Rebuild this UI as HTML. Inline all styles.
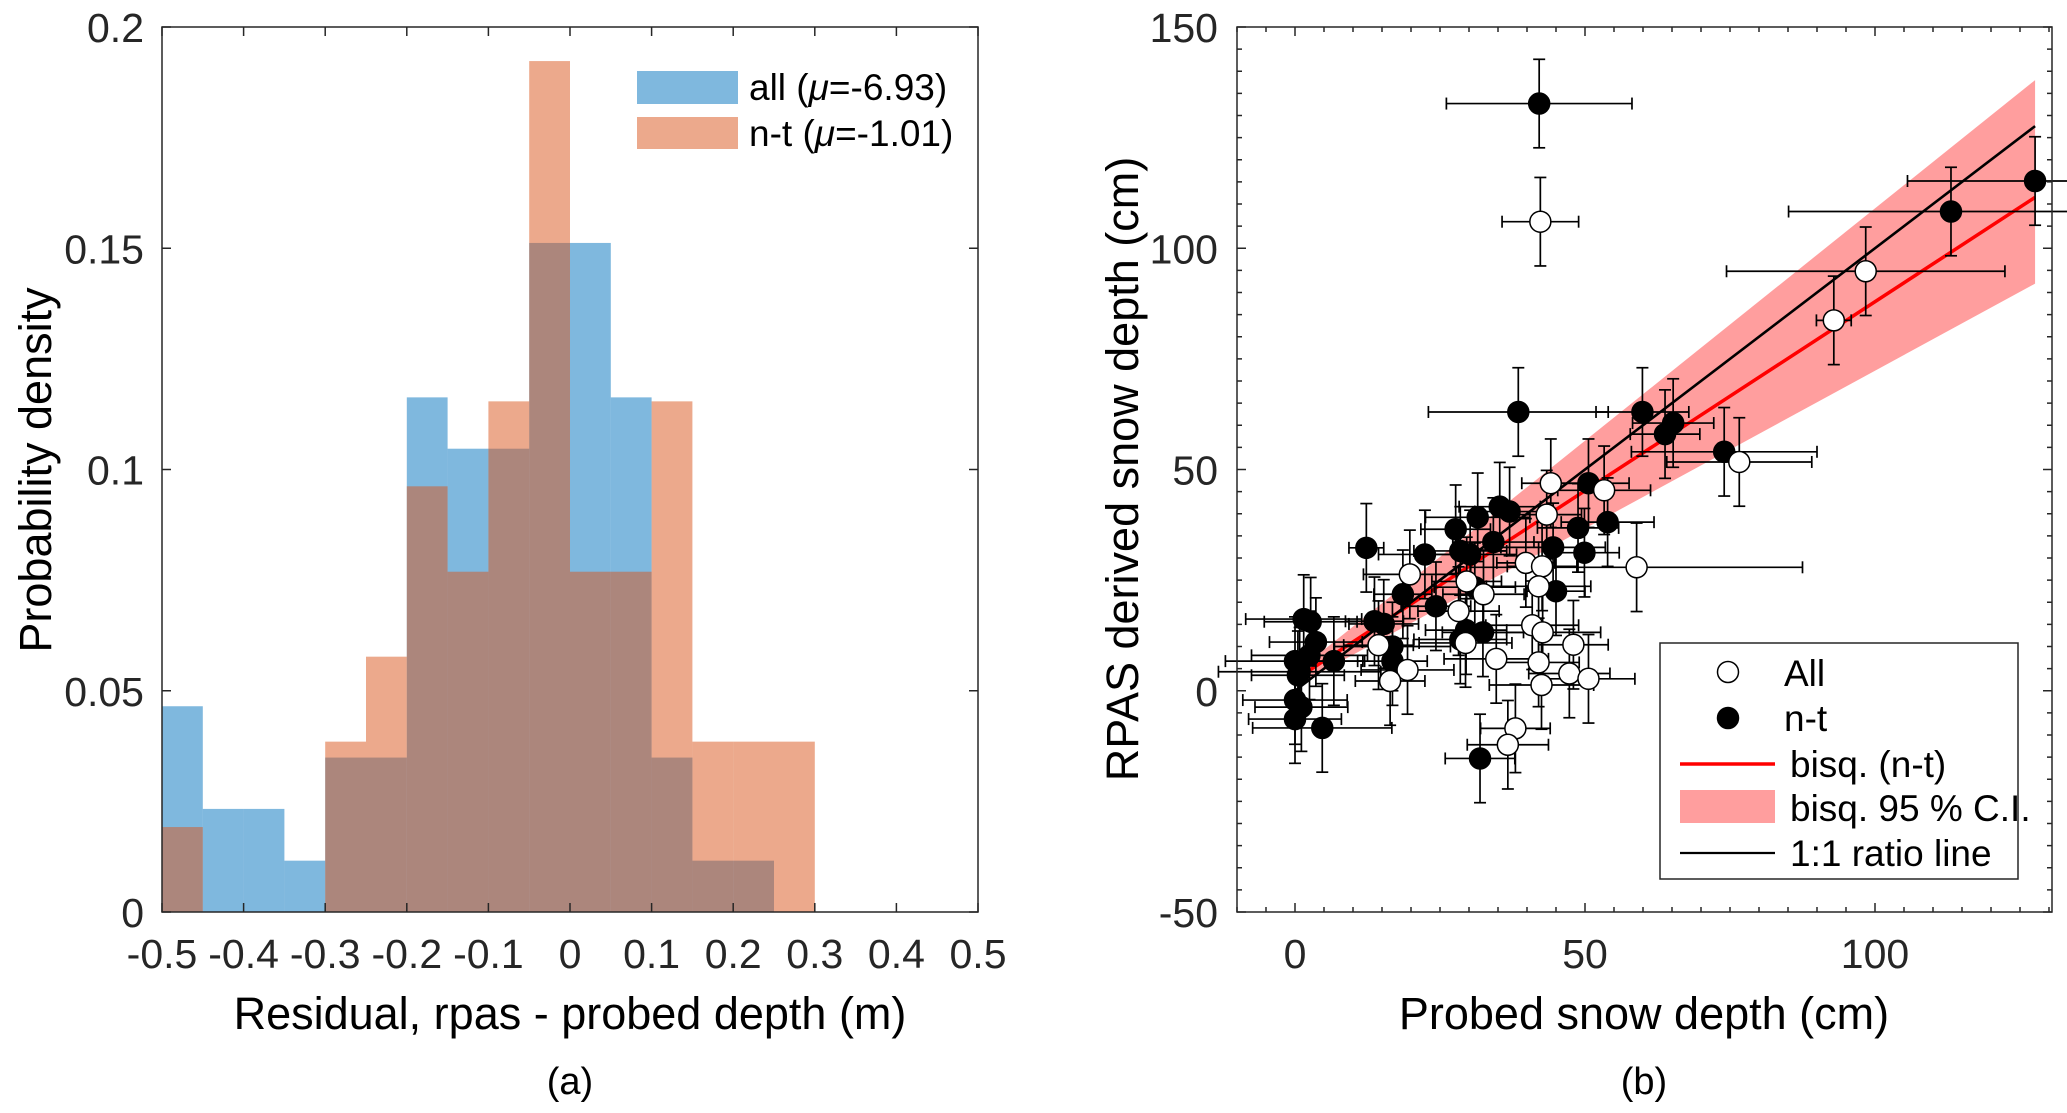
<!DOCTYPE html>
<html><head><meta charset="utf-8">
<style>
html,body{margin:0;padding:0;background:#fff;}
svg{display:block;font-family:"Liberation Sans",Arial,sans-serif;}
</style></head>
<body>
<svg id="fig" width="2067" height="1113" viewBox="0 0 2067 1113" xmlns="http://www.w3.org/2000/svg">
  <g id="histA"></g>
  <g id="scatB"></g>
</svg>
<script>
// ---------- Panel (a) data ----------
const binEdges = [-0.5,-0.45,-0.4,-0.35,-0.3,-0.25,-0.2,-0.15,-0.1,-0.05,0,0.05,0.1,0.15,0.2,0.25,0.3];
const allDensity = [0.0465,0.0233,0.0233,0.0116,0.0349,0.0349,0.1163,0.1047,0.1047,0.1512,0.1512,0.1163,0.0349,0.0116,0.0116,0];
const ntDensity  = [0.0192,0,0,0,0.0385,0.0577,0.0962,0.0769,0.1154,0.1923,0.0769,0.0769,0.1154,0.0385,0.0385,0.0385];
const xTicksA = [-0.5,-0.4,-0.3,-0.2,-0.1,0,0.1,0.2,0.3,0.4,0.5];
const xTickLabelsA = ["-0.5","-0.4","-0.3","-0.2","-0.1","0","0.1","0.2","0.3","0.4","0.5"];
const yTicksA = [0,0.05,0.1,0.15,0.2];
const yTickLabelsA = ["0","0.05","0.1","0.15","0.2"];

// ---------- Panel (b) data ----------
const ntX = [42.1,38.5,59.9,63.8,65.2,74,113.1,127.6,50.6,53.9,48.8,49.9,44.5,45,35.3,37,31.5,34.2,27.7,28.5,30.2,31,24.3,22.4,18.6,12.3,13.7,15.3,16.8,16.8,28.5,29.5,32.4,31.9,6.7,4.7,1.5,2.7,3.6,2.5,0,0.5,0,1.1,0,0.8];
const ntY = [132.7,63,63,58,60.5,54,108.3,115.2,46.9,38.1,36.8,31.2,32.4,22.5,41.6,40.5,39.2,33.6,36.5,31.6,30.8,23.4,19.1,30.8,21.8,32.3,15.7,15.1,10,6.7,11.6,13.7,13.2,-15.3,6.7,-8.4,16.2,15.6,11,8,6.7,3.5,-2.1,-3.7,-6.4,4.3];
const ntXErr = [16,15.5,8,6,7,16,28,22,7,8,7,6,9,5,7,6,9,7,6,8,8,7,6,8,5,3,5,6,10,6,8,7,7,6,5,12,10,8,8,10,12,8,9,8,8,14];
const ntYErr = [10,10,10,10,10,10,10,10,10,10,10,10,10,10,10,10,10,10,10,10,10,10,10,10,10,10,10,10,10,10,10,10,10,10,10,10,10,10,10,10,10,10,10,10,10,10];
const allX = [42.3,98.4,92.9,76.6,44.1,53.3,43.4,39.8,42.6,58.9,19.8,29.6,32.5,42,28.2,40.9,42.7,48,14.4,19.4,16.4,34.7,42,47.3,50.6,42.5,38,36.7,29.4];
const allY = [106,94.8,83.7,51.7,46.9,45.3,39.8,28.9,28.1,27.9,26.3,24.7,21.8,23.6,18,14.8,13.2,10.4,10.3,4.7,2.2,7.2,6.4,3.9,2.7,1.3,-8.5,-12.2,10.8];
const allXErr = [6.6,24,3,12.5,5,8,6,5,6,28.6,8,6,7,9,7,8,10,6,6,8,6,9,7,7,8,9,6,7,8];
const allYErr = [10,10,10,10,10,10,10,10,10,10,10,10,10,10,10,10,10,10,10,10,10,10,10,10,10,10,10,10,10];
const fitXEnds = [0,127.6];
const fitYEnds = [2.5,111.5];
const oneToOneX = [0,127.6];
const oneToOneY = [0,127.6];
const bandX = [0,127.6];
const bandUpper = [4,138];
const bandLower = [1,92];
const xTicksB = [0,50,100];
const xTickLabelsB = ["0","50","100"];
const yTicksB = [-50,0,50,100,150];
const yTickLabelsB = ["-50","0","50","100","150"];

const NS="http://www.w3.org/2000/svg";
function mk(parent,tag,attrs,text){
  const e=document.createElementNS(NS,tag);
  for(const k in attrs) e.setAttribute(k,attrs[k]);
  if(text!==undefined) e.textContent=text;
  parent.appendChild(e); return e;
}

// ===== Panel A =====
const A={l:162,r:978,t:27,b:912,x0:-0.5,x1:0.5,y0:0,y1:0.2};
const ax=v=>A.l+(v-A.x0)/(A.x1-A.x0)*(A.r-A.l);
const ay=v=>A.b-(v-A.y0)/(A.y1-A.y0)*(A.b-A.t);
const gA=document.getElementById('histA');
for(let i=0;i<allDensity.length;i++){
  if(allDensity[i]<=0) continue;
  const r=mk(gA,'rect',{x:ax(binEdges[i]),y:ay(allDensity[i]),width:ax(binEdges[i+1])-ax(binEdges[i]),height:ay(0)-ay(allDensity[i]),fill:'#0072BD','fill-opacity':0.5});
  
  
}
for(let i=0;i<ntDensity.length;i++){
  if(ntDensity[i]<=0) continue;
  const r=mk(gA,'rect',{x:ax(binEdges[i]),y:ay(ntDensity[i]),width:ax(binEdges[i+1])-ax(binEdges[i]),height:ay(0)-ay(ntDensity[i]),fill:'#D95319','fill-opacity':0.5});
  
  
}
const boxA=mk(gA,'rect',{x:A.l,y:A.t,width:A.r-A.l,height:A.b-A.t,fill:'none',stroke:'#262626','stroke-width':1.5});


xTicksA.forEach((v,i)=>{
  const x=ax(v);
  mk(gA,'line',{x1:x,x2:x,y1:A.b,y2:A.b-9,stroke:'#262626','stroke-width':1.5});
  mk(gA,'line',{x1:x,x2:x,y1:A.t,y2:A.t+9,stroke:'#262626','stroke-width':1.5});
  const t=mk(gA,'text',{x:x,y:968,'font-size':41,'text-anchor':'middle',fill:'#262626'},xTickLabelsA[i]);
  
  
});
yTicksA.forEach((v,i)=>{
  const y=ay(v);
  mk(gA,'line',{x1:A.l,x2:A.l+9,y1:y,y2:y,stroke:'#262626','stroke-width':1.5});
  mk(gA,'line',{x1:A.r,x2:A.r-9,y1:y,y2:y,stroke:'#262626','stroke-width':1.5});
  const t=mk(gA,'text',{x:144,y:y+15,'font-size':41,'text-anchor':'end',fill:'#262626'},yTickLabelsA[i]);
  
  
});
// legend A
const lgA=mk(gA,'g',{});


mk(lgA,'rect',{x:637,y:71,width:101,height:33,fill:'#0072BD','fill-opacity':0.5});
mk(lgA,'rect',{x:637,y:117,width:101,height:32,fill:'#D95319','fill-opacity':0.5});
const la1=mk(lgA,'text',{x:749,y:100,'font-size':37,fill:'#000'});
la1.innerHTML='all (<tspan font-style="italic">μ</tspan>=-6.93)';


const la2=mk(lgA,'text',{x:749,y:146,'font-size':37,fill:'#000'});
la2.innerHTML='n-t (<tspan font-style="italic">μ</tspan>=-1.01)';


const xlA=mk(gA,'text',{x:570,y:1029,'font-size':45,'text-anchor':'middle',fill:'#000'},'Residual, rpas - probed depth (m)');


const ylA=mk(gA,'text',{x:0,y:0,'font-size':45,'text-anchor':'middle',fill:'#000',transform:'translate(51,470) rotate(-90)'},'Probability density');


const capA=mk(gA,'text',{x:570,y:1094,'font-size':38,'text-anchor':'middle',fill:'#000'},'(a)');



// ===== Panel B =====
const B={l:1237,r:2052,t:27,b:912,x0:-10,y0:-50,y1:150};
const bx=v=>1295+v*5.8;
const by=v=>B.b-(v-B.y0)/(B.y1-B.y0)*(B.b-B.t);
const gB=document.getElementById('scatB');
let pts=[];
bandX.forEach((v,i)=>pts.push(bx(v)+','+by(bandUpper[i])));
for(let i=bandX.length-1;i>=0;i--) pts.push(bx(bandX[i])+','+by(bandLower[i]));
const band=mk(gB,'polygon',{points:pts.join(' '),fill:'#FF0000','fill-opacity':0.38});


const fit=mk(gB,'line',{x1:bx(fitXEnds[0]),y1:by(fitYEnds[0]),x2:bx(fitXEnds[1]),y2:by(fitYEnds[1]),stroke:'#FF0000','stroke-width':3.5});


const one=mk(gB,'line',{x1:bx(oneToOneX[0]),y1:by(oneToOneY[0]),x2:bx(oneToOneX[1]),y2:by(oneToOneY[1]),stroke:'#000','stroke-width':2.6});


function errbar(x,y,xe,ye){
  const g=mk(gB,'g',{stroke:'#000','stroke-width':1.7,fill:'none'});
  
  
  const X=bx(x),Y=by(y),x1=bx(x-xe),x2=bx(x+xe),y1=by(y+ye),y2=by(y-ye);
  mk(g,'line',{x1:x1,x2:x2,y1:Y,y2:Y});
  mk(g,'line',{x1:x1,x2:x1,y1:Y-6,y2:Y+6});
  mk(g,'line',{x1:x2,x2:x2,y1:Y-6,y2:Y+6});
  mk(g,'line',{x1:X,x2:X,y1:y1,y2:y2});
  mk(g,'line',{x1:X-6,x2:X+6,y1:y1,y2:y1});
  mk(g,'line',{x1:X-6,x2:X+6,y1:y2,y2:y2});
}
ntX.forEach((v,i)=>errbar(v,ntY[i],ntXErr[i],ntYErr[i]));
allX.forEach((v,i)=>errbar(v,allY[i],allXErr[i],allYErr[i]));
ntX.forEach((v,i)=>{
  const c=mk(gB,'circle',{cx:bx(v),cy:by(ntY[i]),r:10.5,fill:'#000',stroke:'#000','stroke-width':1.5});
  
  
});
allX.forEach((v,i)=>{
  const c=mk(gB,'circle',{cx:bx(v),cy:by(allY[i]),r:10.5,fill:'#fff',stroke:'#000','stroke-width':1.5});
  
  
});
const boxB=mk(gB,'rect',{x:B.l,y:B.t,width:B.r-B.l,height:B.b-B.t,fill:'none',stroke:'#262626','stroke-width':1.5});


for(let v=-10;v<=130;v+=5){
  const x=bx(v); const L=(v%50===0)?9:5;
  mk(gB,'line',{x1:x,x2:x,y1:B.b,y2:B.b-L,stroke:'#262626','stroke-width':1.5});
  mk(gB,'line',{x1:x,x2:x,y1:B.t,y2:B.t+L,stroke:'#262626','stroke-width':1.5});
}
for(let v=-50;v<=150;v+=5){
  const y=by(v); const L=(v%50===0)?9:5;
  mk(gB,'line',{x1:B.l,x2:B.l+L,y1:y,y2:y,stroke:'#262626','stroke-width':1.5});
  mk(gB,'line',{x1:B.r,x2:B.r-L,y1:y,y2:y,stroke:'#262626','stroke-width':1.5});
}
xTicksB.forEach((v,i)=>{
  const t=mk(gB,'text',{x:bx(v),y:968,'font-size':41,'text-anchor':'middle',fill:'#262626'},xTickLabelsB[i]);
  
  
});
yTicksB.forEach((v,i)=>{
  const t=mk(gB,'text',{x:1218,y:by(v)+15,'font-size':41,'text-anchor':'end',fill:'#262626'},yTickLabelsB[i]);
  
  
});
// legend B
const lgB=mk(gB,'g',{});


mk(lgB,'rect',{x:1660,y:643,width:358,height:236,fill:'#fff',stroke:'#262626','stroke-width':1.5});
mk(lgB,'circle',{cx:1728,cy:672,r:10.5,fill:'#fff',stroke:'#000','stroke-width':1.5});
mk(lgB,'circle',{cx:1728,cy:718,r:10.5,fill:'#000',stroke:'#000','stroke-width':1.5});
mk(lgB,'line',{x1:1680,x2:1775,y1:764,y2:764,stroke:'#FF0000','stroke-width':3.5});
mk(lgB,'rect',{x:1680,y:790,width:95,height:33,fill:'#FF0000','fill-opacity':0.38});
mk(lgB,'line',{x1:1680,x2:1775,y1:853,y2:853,stroke:'#000','stroke-width':2.2});
const legTexts=[['All',686],['n-t',731],['bisq. (n-t)',777],['bisq. 95 % C.I.',821],['1:1 ratio line',866]];
legTexts.forEach(([s,y],i)=>{
  const t=mk(lgB,'text',{x:(i<2?1784:1790),y:y,'font-size':37,fill:'#000'},s);
  
  
});
const xlB=mk(gB,'text',{x:1644,y:1029,'font-size':45,'text-anchor':'middle',fill:'#000'},'Probed snow depth (cm)');


const ylB=mk(gB,'text',{x:0,y:0,'font-size':45,'text-anchor':'middle',fill:'#000',transform:'translate(1138,469) rotate(-90)'},'RPAS derived snow depth (cm)');


const capB=mk(gB,'text',{x:1644,y:1094,'font-size':38,'text-anchor':'middle',fill:'#000'},'(b)');


</script>
</body></html>
